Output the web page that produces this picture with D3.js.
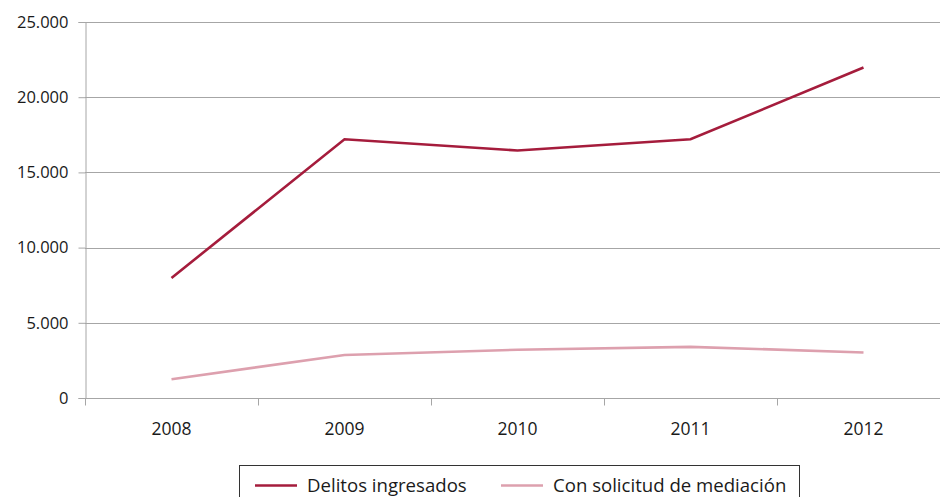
<!DOCTYPE html>
<html>
<head>
    <meta charset="utf-8" />
    <title>Delitos ingresados</title>
    <style>
        body { margin: 0; background: #fff; }
        #line_chart { width: 940px; height: 497px; }
        text { font-family: "Open Sans", "Noto Sans", sans-serif; fill: #1a1a1a; }
    </style>
</head>
<body>
    <div id="line_chart"></div>
    <script src="https://cdnjs.cloudflare.com/ajax/libs/d3/7.8.5/d3.min.js"></script>
    <script>
        var years = ["2008", "2009", "2010", "2011", "2012"];
        var delitos = [7980, 17200, 16460, 17200, 21970];
        var mediacion = [1250, 2860, 3210, 3400, 3030];
        var yTicks = [0, 5000, 10000, 15000, 20000, 25000];
        var seriesNames = ["Delitos ingresados", "Con solicitud de mediación"];
        var colors = ["#A51C3C", "#DDA0AE"];

        var width = 940, height = 497;
        var margin = { left: 85, top: 22, bottom: 99 };

        var svg = d3.select("#line_chart").append("svg")
            .attr("width", width)
            .attr("height", height);

        // band of ~173px per year, plot runs past the right edge
        var xScale = d3.scaleBand()
            .domain(years)
            .range([margin.left, margin.left + 173 * years.length]);

        var yScale = d3.scaleLinear()
            .domain([0, 25000])
            .range([height - margin.bottom, margin.top]);

        var fmt = function (d) {
            return d3.format(",")(d).replace(/,/g, ".");
        };

        // horizontal gridlines
        svg.append("g")
            .selectAll("line")
            .data(yTicks.filter(function (d) { return d > 0; }))
            .enter().append("line")
            .attr("x1", margin.left)
            .attr("x2", width)
            .attr("y1", function (d) { return Math.round(yScale(d)) + 0.5; })
            .attr("y2", function (d) { return Math.round(yScale(d)) + 0.5; })
            .attr("stroke", "#a6a6a6")
            .attr("stroke-width", 1);

        // y axis
        var yAxis = svg.append("g")
            .attr("transform", "translate(" + (margin.left + 0.5) + ",0)")
            .call(d3.axisLeft(yScale).tickValues(yTicks).tickFormat(fmt).tickSize(7).tickPadding(10));
        yAxis.select(".domain").attr("stroke", "#a6a6a6");
        yAxis.selectAll(".tick line").attr("stroke", "#a6a6a6");
        yAxis.selectAll("text").style("font-size", "16.5px").attr("fill", "#1a1a1a");

        // x axis
        var xBase = Math.round(yScale(0)) + 0.5;
        svg.append("line")
            .attr("x1", margin.left).attr("x2", width)
            .attr("y1", xBase).attr("y2", xBase)
            .attr("stroke", "#a6a6a6");
        svg.append("g")
            .selectAll("line")
            .data(years)
            .enter().append("line")
            .attr("x1", function (d) { return Math.round(xScale(d)) + 0.5; })
            .attr("x2", function (d) { return Math.round(xScale(d)) + 0.5; })
            .attr("y1", xBase)
            .attr("y2", xBase + 7)
            .attr("stroke", "#a6a6a6");
        svg.append("g")
            .selectAll("text")
            .data(years)
            .enter().append("text")
            .attr("x", function (d) { return xScale(d) + xScale.bandwidth() / 2; })
            .attr("y", xBase + 36)
            .attr("text-anchor", "middle")
            .style("font-size", "17.5px")
            .text(function (d) { return d; });

        // lines
        var line = d3.line()
            .x(function (d, i) { return xScale(years[i]) + xScale.bandwidth() / 2; })
            .y(function (d) { return yScale(d); });

        [delitos, mediacion].forEach(function (values, i) {
            svg.append("path")
                .datum(values)
                .attr("d", line)
                .attr("fill", "none")
                .attr("stroke", colors[i])
                .attr("stroke-width", 2.6);
        });

        // legend
        var legend = svg.append("g");
        legend.append("rect")
            .attr("x", 239.5).attr("y", 465.5)
            .attr("width", 560).attr("height", 40)
            .attr("fill", "#fff")
            .attr("stroke", "#333")
            .attr("stroke-width", 1);
        var legendX = [255, 501];
        seriesNames.forEach(function (name, i) {
            legend.append("line")
                .attr("x1", legendX[i]).attr("x2", legendX[i] + 42)
                .attr("y1", 485.5).attr("y2", 485.5)
                .attr("stroke", colors[i])
                .attr("stroke-width", 2.6);
            legend.append("text")
                .attr("x", legendX[i] + 52)
                .attr("y", 492)
                .style("font-size", "18.6px")
                .text(name);
        });
    </script>
</body>
</html>
